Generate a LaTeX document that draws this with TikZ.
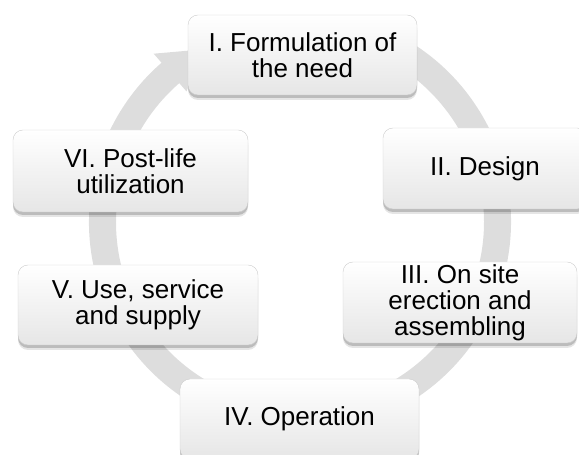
\documentclass[tikz,border=0pt]{standalone}
\usepackage{fontspec}
\setmainfont{Liberation Sans}
\usetikzlibrary{shadows,calc}
\definecolor{bandgray}{RGB}{221,221,221}
\definecolor{boxbottom}{RGB}{230,230,230}
\definecolor{boxline}{RGB}{205,205,205}
\tikzset{
  stagebox/.style={rectangle, rounded corners=10pt, draw=boxline, line width=0.4pt,
    top color=white, bottom color=boxbottom, align=center, inner sep=0pt,
    font=\fontsize{26}{26}\selectfont, text=black,
    general shadow={shadow yshift=-5pt, fill=black, opacity=0.10},
    general shadow={shadow yshift=-3pt, fill=black, opacity=0.18}},
}
\begin{document}
\begin{tikzpicture}[x=1pt,y=1pt]
\useasboundingbox (0,0) rectangle (579,455);
\coordinate (C) at (300,233);
\fill[bandgray] ($(C)+(78:211pt)$) arc[start angle=78, end angle=-229, radius=211pt]
  -- ($(C)+(131:223pt)$) -- ($(C)+(119:197.5pt)$) -- ($(C)+(131:173pt)$)
  -- ($(C)+(131:184pt)$) arc[start angle=-229, end angle=78, radius=184pt] -- cycle;
\node[stagebox, minimum width=229pt, minimum height=80pt] (s1) at (302.5,400) {I. Formulation of\\the need};
\node[stagebox, minimum width=204pt, minimum height=81pt] (s2) at (485,286.5) {II. Design};
\node[stagebox, minimum width=234pt, minimum height=81pt] (s3) at (460,152.5) {III. On site\\erection and\\assembling};
\node[stagebox, minimum width=239pt, minimum height=80pt] (s4) at (299.5,36) {IV. Operation};
\node[stagebox, minimum width=240pt, minimum height=80pt] (s5) at (138,150) {V. Use, service\\and supply};
\node[stagebox, minimum width=235pt, minimum height=82pt] (s6) at (130.5,284) {VI. Post-life\\utilization};
\end{tikzpicture}
\end{document}
